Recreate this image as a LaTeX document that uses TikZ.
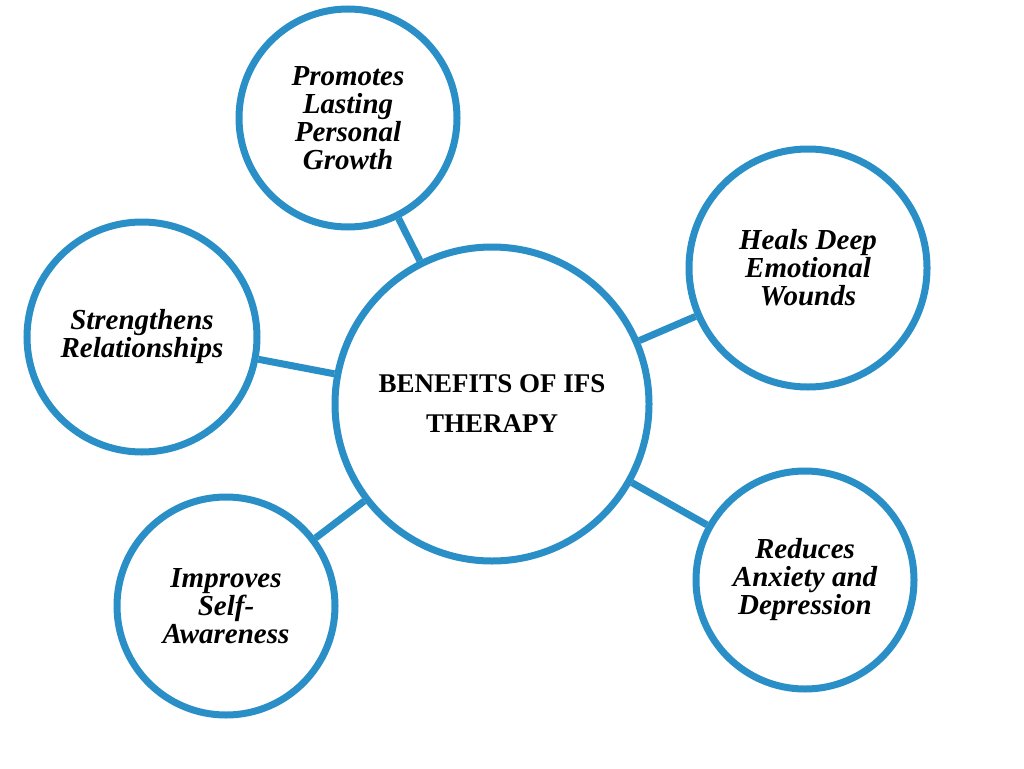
\documentclass[tikz,border=0pt]{standalone}
\usepackage{fontspec}
\setmainfont{Liberation Serif}
\definecolor{ifsblue}{HTML}{2A8FC6}
\tikzset{
  benefit/.style={circle, draw=ifsblue, line width=7pt, inner sep=0pt, align=center,
    font=\fontsize{29}{28}\selectfont\bfseries\itshape},
  hub/.style={benefit, font=\fontsize{27}{40}\selectfont\bfseries},
  link/.style={draw=ifsblue, line width=7pt}
}
\begin{document}
\begin{tikzpicture}[x=1pt,y=-1pt]
\useasboundingbox (0,0) rectangle (1024,768);
\node[hub, minimum size=314pt] (hub) at (492,404) {BENEFITS OF IFS\\THERAPY};
\node[benefit, minimum size=218pt] (growth) at (348,118) {Promotes\\Lasting\\Personal\\Growth};
\node[benefit, minimum size=238pt] (heal) at (808,268) {Heals Deep\\Emotional\\Wounds};
\node[benefit, minimum size=230pt] (rel) at (142,337) {Strengthens\\Relationships};
\node[benefit, minimum size=218pt] (aware) at (226,606) {Improves\\Self-\\Awareness};
\node[benefit, minimum size=218pt] (anx) at (805,580) {Reduces\\Anxiety and\\Depression};
\foreach \n in {growth,heal,rel,aware,anx}
  \draw[link] (hub) -- (\n);
\end{tikzpicture}
\end{document}
